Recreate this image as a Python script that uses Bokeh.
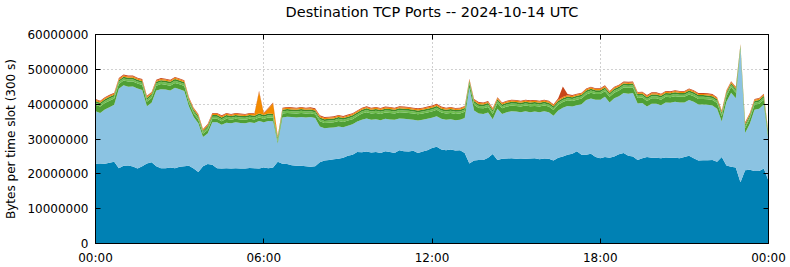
from bokeh.plotting import figure
from bokeh.models import ColumnDataSource, FixedTicker, LinearAxis, Range1d
from bokeh.embed import file_html
from bokeh.resources import INLINE

# ---- data (values in millions of bytes per 300 s slot, sampled every 10 minutes) ----
title_text = "Destination TCP Ports -- 2024-10-14 UTC"
slot_minutes = 10
x_tick_hours = [0, 6, 12, 18, 24]
x_tick_labels = ["00:00", "06:00", "12:00", "18:00", "00:00"]
y_ticks = [0, 10e6, 20e6, 30e6, 40e6, 50e6, 60e6]
y_tick_labels = ["0", "10000000", "20000000", "30000000", "40000000", "50000000", "60000000"]

dark_blue = [
    22.9, 23.0, 22.9, 23.2, 23.5, 21.6, 22.3, 22.4, 22.1, 21.5,
    22.2, 23.0, 23.3, 22.2, 21.6, 21.6, 21.8, 21.6, 22.0, 22.2,
    22.3, 21.5, 20.5, 22.2, 22.8, 22.6, 21.6, 21.5, 21.6, 21.5,
    21.6, 21.5, 21.5, 21.7, 21.6, 21.5, 21.8, 21.6, 21.8, 23.5,
    22.9, 22.8, 22.5, 22.3, 22.3, 22.2, 22.0, 22.2, 23.3, 23.8,
    24.0, 24.2, 24.3, 24.6, 25.2, 25.5, 26.3, 26.2, 26.4, 26.1,
    26.3, 26.0, 26.5, 26.3, 26.0, 26.8, 26.5, 26.4, 26.6, 26.0,
    26.4, 26.8, 27.4, 27.8, 27.0, 26.8, 27.0, 26.7, 26.8, 26.0,
    23.0, 23.8, 24.0, 24.0, 24.6, 25.7, 24.0, 24.3, 24.4, 24.5,
    24.3, 24.4, 24.3, 24.4, 24.5, 24.2, 24.4, 24.3, 23.8, 24.6,
    25.0, 25.5, 25.8, 26.5, 25.5, 25.5, 25.8, 24.8, 24.5, 24.8,
    24.6, 25.0, 25.6, 26.0, 25.2, 25.0, 24.0, 24.5, 24.8, 24.6,
    24.6, 24.5, 24.7, 24.6, 24.6, 24.5, 24.8, 25.2, 24.5, 23.8,
    23.9, 23.9, 24.0, 23.5, 24.8, 22.4, 22.0, 21.8, 17.6, 21.0,
    21.2, 20.8, 20.8, 21.5, 18.0,
]
light_blue = [
    15.1, 14.5, 15.6, 15.9, 16.3, 22.8, 23.1, 22.6, 23.0, 23.0,
    21.9, 16.4, 17.1, 21.7, 22.7, 22.6, 22.1, 23.1, 22.3, 21.6,
    17.0, 14.8, 14.0, 8.4, 8.8, 12.2, 13.2, 12.6, 13.1, 13.0,
    13.2, 13.1, 13.0, 13.1, 13.0, 13.7, 13.0, 13.6, 13.3, 5.2,
    13.3, 13.6, 13.8, 13.9, 14.0, 14.0, 14.3, 13.8, 10.3, 9.3,
    9.2, 9.1, 9.3, 8.8, 8.6, 8.7, 8.7, 9.3, 9.5, 9.4,
    9.4, 9.4, 9.3, 9.3, 9.5, 9.1, 9.3, 9.3, 8.9, 9.3,
    9.1, 9.0, 8.7, 8.7, 8.8, 8.7, 8.7, 8.7, 8.7, 10.0,
    21.7, 14.4, 13.3, 13.2, 13.0, 10.0, 14.7, 12.9, 13.3, 13.5,
    13.6, 13.3, 13.7, 13.3, 13.4, 13.5, 13.6, 13.4, 12.9, 13.6,
    14.0, 14.0, 13.5, 13.2, 14.5, 15.7, 15.8, 16.5, 16.8, 17.3,
    15.9, 16.7, 16.7, 17.2, 17.8, 18.2, 16.2, 15.8, 14.5, 15.5,
    15.5, 15.2, 15.8, 15.8, 16.1, 16.0, 15.7, 16.0, 16.2, 16.1,
    16.0, 15.9, 15.6, 15.2, 10.2, 18.3, 21.3, 19.9, 38.2, 10.7,
    13.2, 17.6, 17.9, 18.4, 11.5,
]
green_a = [
    1.8, 1.8, 1.8, 1.9, 1.8, 1.4, 1.4, 1.5, 1.4, 1.4,
    1.4, 1.3, 1.4, 1.4, 1.5, 1.4, 1.4, 1.4, 1.4, 1.4,
    1.0, 1.0, 1.0, 0.9, 1.0, 1.0, 1.0, 1.0, 1.1, 1.0,
    1.0, 1.0, 1.0, 1.0, 1.0, 1.0, 1.0, 1.0, 1.0, 0.6,
    1.1, 1.1, 1.1, 1.1, 1.2, 1.1, 1.1, 1.1, 1.5, 1.5,
    1.5, 1.5, 1.6, 1.5, 1.5, 1.5, 1.5, 1.8, 1.8, 1.8,
    1.8, 1.8, 1.8, 1.9, 1.8, 1.8, 1.8, 1.8, 1.8, 1.8,
    1.8, 1.8, 1.8, 1.9, 1.8, 1.8, 1.8, 1.8, 1.8, 1.8,
    1.2, 1.6, 1.6, 1.6, 1.6, 1.5, 1.6, 1.6, 1.6, 1.6,
    1.6, 1.6, 1.6, 1.7, 1.6, 1.6, 1.6, 1.6, 1.6, 1.6,
    1.6, 1.6, 1.6, 1.6, 1.6, 1.6, 1.7, 1.6, 1.6, 1.6,
    1.6, 1.6, 1.6, 1.6, 1.7, 1.6, 1.6, 1.6, 1.6, 1.6,
    1.6, 1.6, 1.6, 1.6, 1.6, 1.6, 1.6, 1.6, 1.6, 1.6,
    1.6, 1.6, 1.6, 1.6, 1.5, 1.6, 1.6, 1.6, 0.5, 1.4,
    1.4, 1.4, 1.4, 1.4, 0.8,
]
green_b = [
    0.6, 0.6, 0.6, 0.6, 0.6, 0.6, 0.6, 0.6, 0.6, 0.6,
    0.6, 0.6, 0.6, 0.6, 0.6, 0.6, 0.6, 0.6, 0.6, 0.6,
    0.6, 0.6, 0.6, 0.5, 0.6, 0.6, 0.6, 0.6, 0.6, 0.6,
    0.6, 0.6, 0.6, 0.6, 0.6, 0.6, 0.6, 0.6, 0.6, 0.6,
    0.6, 0.6, 0.6, 0.6, 0.6, 0.6, 0.6, 0.6, 0.6, 0.6,
    0.6, 0.6, 0.6, 0.6, 0.6, 0.6, 0.6, 0.6, 0.6, 0.6,
    0.6, 0.6, 0.6, 0.6, 0.6, 0.6, 0.6, 0.6, 0.6, 0.6,
    0.6, 0.6, 0.6, 0.6, 0.6, 0.6, 0.6, 0.6, 0.6, 0.6,
    0.5, 0.6, 0.6, 0.6, 0.6, 0.6, 0.6, 0.6, 0.6, 0.6,
    0.6, 0.6, 0.6, 0.6, 0.6, 0.6, 0.6, 0.6, 0.6, 0.6,
    0.6, 0.6, 0.6, 0.6, 0.6, 0.6, 0.6, 0.6, 0.6, 0.6,
    0.6, 0.6, 0.6, 0.6, 0.6, 0.6, 0.6, 0.6, 0.6, 0.6,
    0.6, 0.6, 0.6, 0.6, 0.6, 0.6, 0.6, 0.6, 0.6, 0.6,
    0.6, 0.6, 0.6, 0.6, 0.6, 0.6, 0.6, 0.6, 0.3, 0.6,
    0.6, 0.6, 0.6, 0.6, 0.5,
]
green_c = [
    0.5, 0.5, 0.5, 0.5, 0.5, 0.5, 0.5, 0.5, 0.5, 0.5,
    0.5, 0.5, 0.5, 0.5, 0.5, 0.5, 0.5, 0.5, 0.5, 0.5,
    0.5, 0.5, 0.5, 0.4, 0.5, 0.5, 0.5, 0.5, 0.5, 0.5,
    0.5, 0.5, 0.5, 0.5, 0.5, 0.5, 0.5, 0.5, 0.5, 0.5,
    0.5, 0.5, 0.5, 0.5, 0.5, 0.5, 0.5, 0.5, 0.5, 0.5,
    0.5, 0.5, 0.5, 0.5, 0.5, 0.5, 0.5, 0.5, 0.5, 0.5,
    0.5, 0.5, 0.5, 0.5, 0.5, 0.5, 0.5, 0.5, 0.5, 0.5,
    0.5, 0.5, 0.5, 0.5, 0.5, 0.5, 0.5, 0.5, 0.5, 0.5,
    0.4, 0.5, 0.5, 0.5, 0.5, 0.5, 0.5, 0.5, 0.5, 0.5,
    0.5, 0.5, 0.5, 0.5, 0.5, 0.5, 0.5, 0.5, 0.5, 0.5,
    0.5, 0.5, 0.5, 0.5, 0.5, 0.5, 0.5, 0.5, 0.5, 0.5,
    0.5, 0.5, 0.5, 0.5, 0.5, 0.5, 0.5, 0.5, 0.5, 0.5,
    0.5, 0.5, 0.5, 0.5, 0.5, 0.5, 0.5, 0.5, 0.5, 0.5,
    0.5, 0.5, 0.5, 0.5, 0.5, 0.5, 0.5, 0.5, 0.3, 0.5,
    0.5, 0.5, 0.5, 0.5, 0.4,
]
orange = [
    0.35, 0.35, 0.35, 0.35, 0.35, 0.35, 0.35, 0.35, 0.35, 0.35,
    0.35, 0.35, 0.35, 0.35, 0.35, 0.35, 0.35, 0.35, 0.35, 0.35,
    0.35, 0.35, 0.35, 0.30, 0.35, 0.35, 0.35, 0.35, 0.35, 0.35,
    0.35, 0.35, 0.35, 0.35, 0.45, 6.30, 0.40, 1.45, 3.05, 0.30,
    0.35, 0.35, 0.35, 0.35, 0.35, 0.35, 0.35, 0.35, 0.35, 0.35,
    0.35, 0.35, 0.35, 0.35, 0.35, 0.35, 0.35, 0.35, 0.35, 0.35,
    0.35, 0.35, 0.35, 0.35, 0.35, 0.35, 0.35, 0.35, 0.35, 0.35,
    0.35, 0.35, 0.35, 0.35, 0.35, 0.35, 0.35, 0.35, 0.35, 0.35,
    0.30, 0.35, 0.35, 0.35, 0.35, 0.35, 0.35, 0.35, 0.35, 0.35,
    0.35, 0.35, 0.35, 0.35, 0.35, 0.35, 0.35, 0.35, 0.35, 0.40,
    0.35, 0.35, 0.35, 0.35, 0.35, 0.35, 0.35, 0.35, 0.35, 0.35,
    0.35, 0.35, 0.35, 0.35, 0.35, 0.35, 0.35, 0.35, 0.35, 0.35,
    0.35, 0.35, 0.35, 0.35, 0.35, 0.35, 0.35, 0.35, 0.35, 0.35,
    0.35, 0.35, 0.35, 0.35, 0.35, 0.35, 0.35, 0.35, 0.20, 0.35,
    0.35, 0.35, 0.35, 0.35, 0.30,
]
red = [
    0.25, 0.25, 0.25, 0.25, 0.25, 0.25, 0.25, 0.25, 0.25, 0.25,
    0.25, 0.25, 0.25, 0.25, 0.25, 0.25, 0.25, 0.25, 0.25, 0.25,
    0.25, 0.25, 0.25, 0.20, 0.25, 0.25, 0.25, 0.25, 0.25, 0.25,
    0.25, 0.25, 0.25, 0.25, 0.25, 0.25, 0.25, 0.25, 0.25, 0.20,
    0.25, 0.25, 0.25, 0.25, 0.25, 0.25, 0.25, 0.25, 0.25, 0.25,
    0.25, 0.25, 0.25, 0.25, 0.25, 0.25, 0.25, 0.25, 0.25, 0.25,
    0.25, 0.25, 0.25, 0.25, 0.25, 0.25, 0.25, 0.25, 0.25, 0.25,
    0.25, 0.25, 0.25, 0.25, 0.25, 0.25, 0.25, 0.25, 0.25, 0.25,
    0.20, 0.25, 0.25, 0.25, 0.25, 0.25, 0.25, 0.25, 0.25, 0.25,
    0.25, 0.25, 0.25, 0.25, 0.25, 0.25, 0.25, 0.25, 0.25, 0.40,
    3.00, 0.40, 0.25, 0.25, 0.25, 0.25, 0.25, 0.25, 0.25, 0.25,
    0.25, 0.25, 0.25, 0.25, 0.25, 0.25, 0.25, 0.25, 0.25, 0.25,
    0.25, 0.25, 0.25, 0.25, 0.25, 0.25, 0.25, 0.25, 0.25, 0.25,
    0.25, 0.25, 0.25, 0.25, 0.25, 0.25, 0.25, 0.25, 0.15, 0.25,
    0.25, 0.25, 0.25, 0.25, 0.20,
]

series_names = ["dark_blue", "light_blue", "green_a", "green_b", "green_c", "orange", "red"]
series_values = [dark_blue, light_blue, green_a, green_b, green_c, orange, red]
series_colors = ["#0081b4", "#8bc3e2", "#4f9f34", "#6fbd4f", "#3d8c29", "#f28a00", "#c8461a"]

hours = [i * slot_minutes / 60 for i in range(len(dark_blue))]
data = {"x": hours}
for name, vals in zip(series_names, series_values):
    data[name] = [v * 1e6 for v in vals]
source = ColumnDataSource(data)

FONT = "DejaVu Sans"

p = figure(
    width=790, height=267,
    output_backend="svg", toolbar_location=None,
    x_range=Range1d(0, 24), y_range=Range1d(0, 60e6),
    min_border_left=95, min_border_right=22, min_border_top=34, min_border_bottom=24,
)

p.varea_stack(stackers=series_names, x="x", color=series_colors, source=source)

p.outline_line_color = "black"
p.outline_line_width = 1
p.outline_line_alpha = 1
p.background_fill_color = "white"
p.border_fill_color = "white"

# bottom axis
xa = p.xaxis[0]
xa.ticker = FixedTicker(ticks=x_tick_hours)
xa.major_label_overrides = {h: l for h, l in zip(x_tick_hours, x_tick_labels)}
# left axis
ya = p.yaxis[0]
ya.ticker = FixedTicker(ticks=y_ticks)
ya.major_label_overrides = {t: l for t, l in zip(y_ticks, y_tick_labels)}
ya.axis_label = "Bytes per time slot (300 s)"
ya.axis_label_standoff = 6
ya.axis_label_text_font = FONT
ya.axis_label_text_font_size = "12px"
ya.axis_label_text_font_style = "normal"
ya.axis_label_text_color = "black"

for ax in (xa, ya):
    ax.major_tick_in = 5
    ax.major_tick_out = 0
    ax.minor_tick_line_color = None
    ax.axis_line_color = "black"
    ax.major_tick_line_color = "black"
    ax.major_label_text_font = FONT
    ax.major_label_text_font_size = "12px"
    ax.major_label_text_color = "black"
    ax.major_label_standoff = 7

# mirrored tick marks on right (no labels)
ra = LinearAxis(ticker=FixedTicker(ticks=y_ticks), major_tick_in=5, major_tick_out=0,
                minor_tick_line_color=None, major_label_text_font_size="0px",
                major_label_text_color=None, axis_line_color="black", major_label_standoff=0)
p.add_layout(ra, "right")
# top axis: mirrored ticks, carries the chart title as its label (centred over the frame)
ta = LinearAxis(ticker=FixedTicker(ticks=x_tick_hours), major_tick_in=5, major_tick_out=0,
                minor_tick_line_color=None, major_label_text_font_size="0px",
                major_label_text_color=None, axis_line_color="black", major_label_standoff=0,
                axis_label=title_text, axis_label_standoff=15,
                axis_label_text_font=FONT, axis_label_text_font_size="14.5px",
                axis_label_text_font_style="normal", axis_label_text_color="black")
p.add_layout(ta, "above")

# dotted grid
p.xgrid.ticker = FixedTicker(ticks=[6, 12, 18])
p.ygrid.ticker = FixedTicker(ticks=[10e6, 20e6, 30e6, 40e6, 50e6])
for g in (p.xgrid, p.ygrid):
    g.grid_line_color = "#a0a0a0"
    g.grid_line_dash = "1 3"
    g.grid_line_width = 1

open("out.html", "w").write(file_html(p, INLINE))
